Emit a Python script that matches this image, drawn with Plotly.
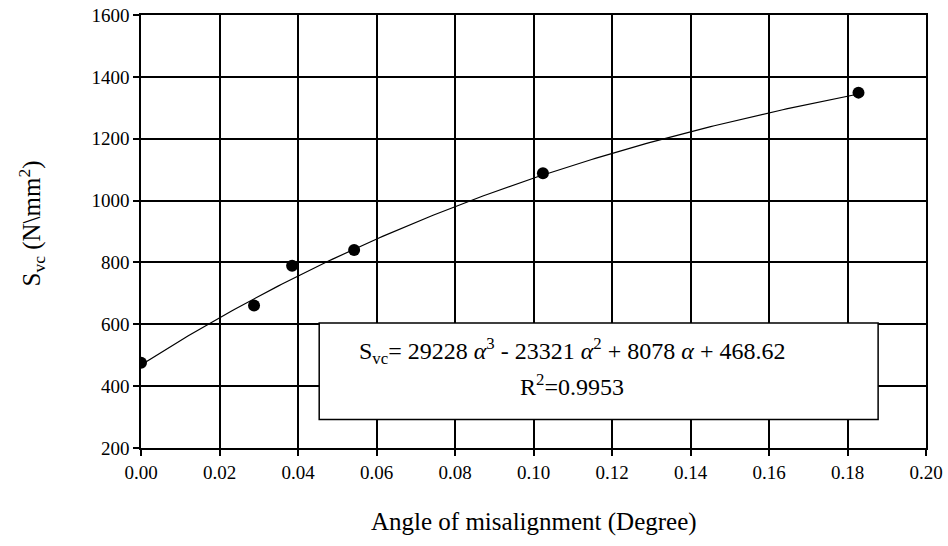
import numpy as np
import plotly.graph_objects as go

# measured data
angle = [0.0, 0.0288, 0.0385, 0.0543, 0.1024, 0.1828]
svc = [476, 661, 789, 840, 1088, 1349]

# trendline coefficients shown in the chart (cubic, highest power first)
coeffs = [29228, -23321, 8078, 468.62]
r2 = 0.9953

x_ticks = [0.00, 0.02, 0.04, 0.06, 0.08, 0.10, 0.12, 0.14, 0.16, 0.18, 0.20]
y_ticks = [200, 400, 600, 800, 1000, 1200, 1400, 1600]

xf = np.linspace(min(angle), max(angle), 200)
yf = np.polyval(coeffs, xf)

font = "Liberation Serif"

fig = go.Figure()
fig.add_trace(go.Scatter(x=xf, y=yf, mode="lines",
                         line=dict(color="black", width=1.2), hoverinfo="skip"))
fig.add_trace(go.Scatter(x=angle, y=svc, mode="markers",
                         marker=dict(color="black", size=12, symbol="circle")))

# equation box
fig.add_shape(type="rect", xref="x", yref="y", x0=0.0454, x1=0.1878, y0=292, y1=604,
              line=dict(color="black", width=1.5), fillcolor="white", layer="above")
fig.add_annotation(xref="x", yref="y", x=0.1098, y=514, showarrow=False,
                   text="S<sub>vc</sub>= 29228 <i>α</i><sup>3</sup> - 23321 <i>α</i><sup>2</sup> + 8078 <i>α</i> + 468.62",
                   font=dict(family=font, size=24, color="black"))
fig.add_annotation(xref="x", yref="y", x=0.1098, y=404, showarrow=False,
                   text="R<sup>2</sup>=%.4f" % r2,
                   font=dict(family=font, size=24, color="black"))

# axis titles
fig.add_annotation(xref="paper", yref="paper", x=0.5, y=0, yanchor="middle",
                   yshift=-74, showarrow=False,
                   text="Angle of misalignment (Degree)",
                   font=dict(family=font, size=25, color="black"))
fig.add_annotation(xref="paper", yref="paper", x=0, y=0.5, xanchor="center",
                   yanchor="middle", xshift=-110, yshift=8, textangle=-90,
                   showarrow=False,
                   text="S<sub>vc</sub> (N\\mm<sup>2</sup>)",
                   font=dict(family=font, size=25, color="black"))

fig.update_layout(
    width=948, height=546,
    margin=dict(l=141, r=22, t=15, b=98),
    paper_bgcolor="white", plot_bgcolor="white",
    showlegend=False,
    font=dict(family=font, size=19, color="black"),
)
fig.update_xaxes(range=[0, 0.20], tickvals=x_ticks,
                 ticktext=["%.2f" % v for v in x_ticks],
                 showgrid=True, gridcolor="black", gridwidth=1.6,
                 showline=True, linecolor="black", linewidth=1.6, mirror=True,
                 ticks="outside", ticklen=6, tickcolor="black", tickwidth=1.6,
                 zeroline=False, automargin=False,
                 tickfont=dict(family=font, size=19, color="black"))
fig.update_yaxes(range=[200, 1600], tickvals=y_ticks,
                 showgrid=True, gridcolor="black", gridwidth=1.6,
                 showline=True, linecolor="black", linewidth=1.6, mirror=True,
                 ticks="outside", ticklen=6, tickcolor="black", tickwidth=1.6,
                 zeroline=False, automargin=False,
                 tickfont=dict(family=font, size=19, color="black"))

fig.write_html("out.html", config={"displayModeBar": False},
               post_script="document.body.style.margin='0';document.body.style.overflow='hidden';")
